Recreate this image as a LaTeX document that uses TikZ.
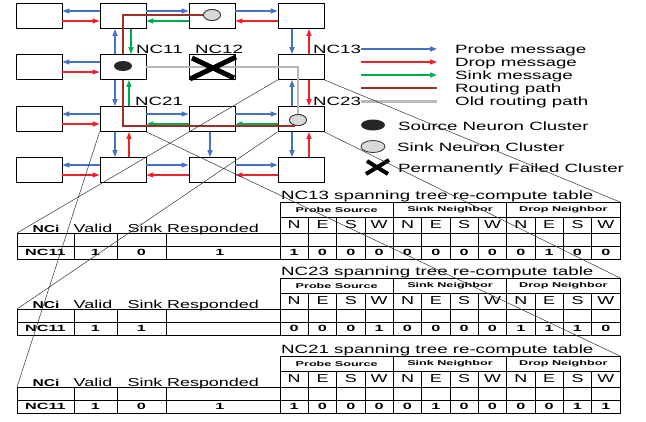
\documentclass[tikz,border=0pt]{standalone}
\usepackage{fontspec}
\setmainfont{Liberation Sans}[FakeStretch=1.56]
\newfontfamily\tabfont{Liberation Sans}[FakeStretch=1.8]
\usetikzlibrary{arrows.meta,positioning,shapes.geometric}
\definecolor{pbl}{RGB}{68,114,196}
\definecolor{drd}{RGB}{238,34,40}
\definecolor{sgr}{RGB}{0,170,80}
\definecolor{rtb}{RGB}{160,45,38}
\definecolor{ogr}{RGB}{185,185,185}
\tikzset{nc/.style={draw,rectangle,minimum width=46pt,minimum height=25pt,inner sep=0pt,fill=white,line width=0.9pt},
ar/.style={-{Triangle[length=7pt,width=5pt]},line width=1.2pt},pr/.style={ar,pbl},dm/.style={ar,drd},sm/.style={ar,sgr},
rp/.style={rtb,line width=2.2pt},op/.style={ogr,line width=2.2pt},
lb/.style={anchor=base west,inner sep=0pt,font=\fontsize{12}{14}\selectfont},
src/.style={ellipse,fill=black!85,inner sep=0pt},snk/.style={ellipse,draw=black!80,fill=black!15,line width=0.8pt,inner sep=0pt},
fl/.style={line width=5pt},ln/.style={black!80,line width=0.5pt},tb/.style={line width=0.9pt},
hd/.style={inner sep=0pt,font=\fontsize{11.5}{13}\selectfont},
gh/.style={inner sep=0pt,font=\tabfont\bfseries\fontsize{7}{8}\selectfont},
dt/.style={inner sep=0pt,font=\tabfont\bfseries\fontsize{9}{10}\selectfont}}
\begin{document}
\begin{tikzpicture}[x=1pt,y=-1pt]
\useasboundingbox(0,0)rectangle(646,421);
\foreach\r/\y in{1/16,2/67,3/119,4/170}\foreach\c/\x in{1/39,2/123,3/212,4/301}{\node[nc](n\r\c)at(\x,\y){};}
\foreach\a/\b/\s/\o in{12.west/11.east/pr/5,11.east/12.west/dm/-5,12.east/13.west/pr/5,13.west/12.east/sm/-5,13.east/14.west/pr/5,14.west/13.east/dm/-5,
22.west/21.east/pr/5,21.east/22.west/dm/-5,
32.west/31.east/pr/5,31.east/32.west/dm/-5,32.east/33.west/pr/5,33.west/32.east/sm/-5,33.east/34.west/pr/5,34.west/33.east/sm/-5,
42.west/41.east/pr/5,41.east/42.west/dm/-5,42.east/43.west/pr/5,43.west/42.east/dm/-5,43.east/44.west/pr/5,44.west/43.east/dm/-5}
\draw[\s]([yshift=\o pt]n\a)--([yshift=\o pt]n\b);
\foreach\a/\b/\s/\o in{22.north/12.south/pr/-8,12.south/22.north/sm/8,22.south/32.north/pr/-8,32.north/22.south/sm/6,32.south/42.north/pr/-8,42.north/32.south/dm/6,
33.south/43.north/pr/-2,14.south/24.north/pr/-9,24.north/14.south/dm/8,34.north/24.south/pr/-9,24.south/34.north/dm/8,34.south/44.north/pr/-9,44.north/34.south/dm/8}
\draw[\s]([xshift=\o pt]n\a)--([xshift=\o pt]n\b);
\node[snk,minimum width=17pt,minimum height=11pt](s1)at(212,15){};
\node[snk,minimum width=17pt,minimum height=11pt](s2)at(298,120){};
\draw[op](n22.east)-|(s2.north);
\draw[rp](s1.west)-|(n22.north);
\draw[rp](n22.south)|-([xshift=-6pt,yshift=-7pt]n34.center);
\node[snk,minimum width=17pt,minimum height=11pt]at(s1){};
\node[snk,minimum width=17pt,minimum height=11pt]at(s2){};
\node[src,minimum width=18pt,minimum height=10pt](so)at(123,66){};
\draw[fl](192,58)--(234,78)(190,79)--(236,57);
\node[lb](l11)at(136,53){NC11};
\node[lb](l12)at(195,53){NC12};
\node[lb](l13)at(313,53){NC13};
\node[lb](l21)at(135,105){NC21};
\node[lb](l23)at(313,105){NC23};
\foreach\i/\y/\s/\t in{1/49/pr/Probe message,2/62/dm/Drop message,3/75/sm/Sink message,4/88/rp/Routing path,5/101.5/op/Old routing path}{
\coordinate(le\i)at(361,\y);\coordinate(re\i)at(437,\y);\draw[\s](le\i)--(re\i);\node[lb](lt\i)at(455,\y+4.3){\t};}
\node[src,minimum width=24pt,minimum height=11pt](ls)at(373,125){};
\node[snk,minimum width=24pt,minimum height=12pt](lk)at(373,146.5){};
\draw[line width=4pt](367,161)--(388,174)(366,174)--(389,160);
\node[lb](lt6)at(398,130){Source Neuron Cluster};
\node[lb](lt7)at(397,151){Sink Neuron Cluster};
\node[lb](lt8)at(398,172){Permanently Failed Cluster};
\foreach\t/\T/\nm/\va/\sk/\rs/\vals in{1/202/NC13/1/0/1/{1,0,0,0,0,0,0,0,0,1,0,0},2/278/NC23/1/1//{0,0,0,1,0,0,0,0,1,1,1,0},3/356/NC21/1/0/1/{1,0,0,0,0,1,0,0,0,0,1,1}}{
\node[lb](ti\t)at(281,\T-2.5){\nm\ spanning tree re-compute table};
\draw[tb](280,\T)rectangle(620,\T+57)(17,\T+31)rectangle(280,\T+57)(280,\T+15)--(620,\T+15)(17,\T+31)--(620,\T+31)(17,\T+44)--(620,\T+44);
\foreach\k in{1,...,11}\draw[tb]({280+\k*340/12},\T+15)--({280+\k*340/12},\T+57);
\foreach\k in{4,8}\draw[tb]({280+\k*340/12},\T)--({280+\k*340/12},\T+15);
\foreach\x in{74,117,166}\draw[tb](\x,\T+31)--(\x,\T+57);
\foreach\g[count=\k]in{Probe Source,Sink Neighbor,Drop Neighbor}\node[gh](g\t-\k)at({280+(\k-0.5)*340/3},\T+7.5){\g};
\foreach\l[count=\k]in{N,E,S,W,N,E,S,W,N,E,S,W}\node[hd](h\t-\k)at({280+(\k-0.5)*340/12},\T+23){\l};
\foreach\d[count=\k]in\vals\node[dt](d\t-\k)at({280+(\k-0.5)*340/12},\T+50.5){\d};
\node[hd,anchor=base,font=\bfseries\fontsize{10}{12}\selectfont](c\t-1)at(46,\T+30){NCi};
\node[hd,anchor=base](c\t-2)at(93,\T+30){Valid};
\node[hd,anchor=base](c\t-3)at(145,\T+30){Sink};
\node[hd,anchor=base](c\t-4)at(213,\T+30){Responded};
\node[dt](e\t-1)at(45.5,\T+50.5){NC11};
\node[dt](e\t-2)at(95.5,\T+50.5){\va};
\node[dt](e\t-3)at(141.5,\T+50.5){\sk};
\node[dt](e\t-4)at(220,\T+50.5){\rs};
\coordinate(tl\t)at(17,\T+31);\coordinate(tr\t)at(620,\T);}
\draw[ln](n24.south west)--(tl1)(n24.south east)--(tr1)(n34.south west)--(tl2)(n34.south east)--(tr2)(n32.south west)--(tl3)(n32.south east)--(tr3);
\end{tikzpicture}
\end{document}
